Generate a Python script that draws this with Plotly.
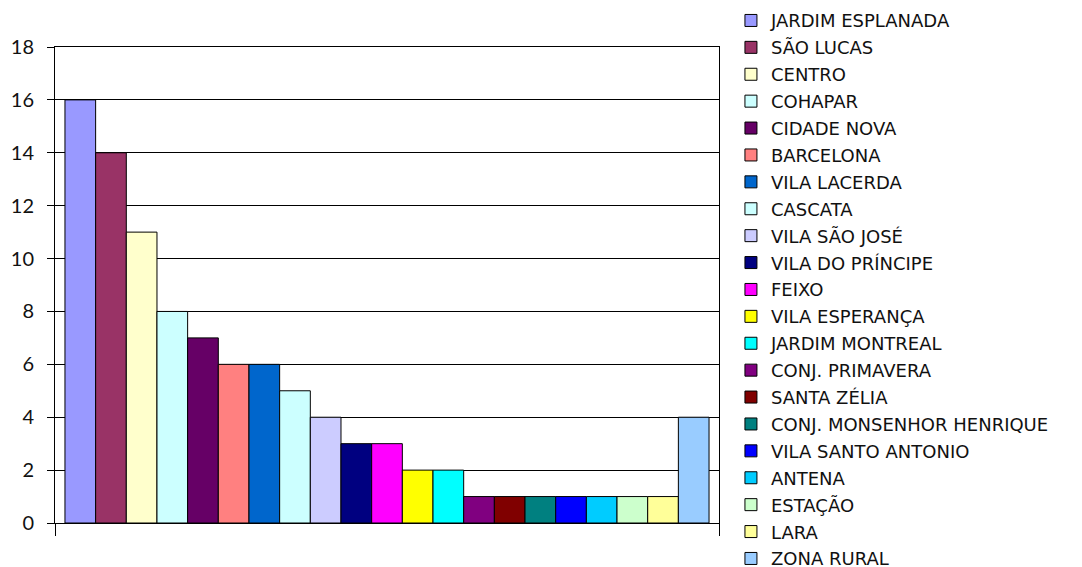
import plotly.graph_objects as go

bairros = ["JARDIM ESPLANADA", "SÃO LUCAS", "CENTRO", "COHAPAR", "CIDADE NOVA",
           "BARCELONA", "VILA LACERDA", "CASCATA", "VILA SÃO JOSÉ", "VILA DO PRÍNCIPE",
           "FEIXO", "VILA ESPERANÇA", "JARDIM MONTREAL", "CONJ. PRIMAVERA", "SANTA ZÉLIA",
           "CONJ. MONSENHOR HENRIQUE", "VILA SANTO ANTONIO", "ANTENA", "ESTAÇÃO", "LARA",
           "ZONA RURAL"]
valores = [16, 14, 11, 8, 7, 6, 6, 5, 4, 3, 3, 2, 2, 1, 1, 1, 1, 1, 1, 1, 4]
cores = ["#9999FF", "#993366", "#FFFFCC", "#CCFFFF", "#660066", "#FF8080", "#0066CC",
         "#CCFFFF", "#CCCCFF", "#000080", "#FF00FF", "#FFFF00", "#00FFFF", "#800080",
         "#800000", "#008080", "#0000FF", "#00CCFF", "#CCFFCC", "#FFFF99", "#99CCFF"]
y_ticks = [0, 2, 4, 6, 8, 10, 12, 14, 16, 18]

fig = go.Figure()
for nome, v, c in zip(bairros, valores, cores):
    fig.add_trace(go.Bar(x=["a"], y=[v], name=nome, legendgroup=nome,
                         marker=dict(color=c, line=dict(color="black", width=1))))

fig.update_layout(
    width=1082, height=567,
    margin=dict(l=55, r=363, t=47, b=44, pad=0, autoexpand=False),
    paper_bgcolor="white", plot_bgcolor="white",
    barmode="group", bargap=0.03, bargroupgap=0,
    font=dict(family="Lato", size=20, color="#111111"),
    legend=dict(x=1.018, xanchor="left", y=1.094, yanchor="top",
                font=dict(family="DejaVu Sans", size=18, color="#111111"),
                tracegroupgap=0.5, maxheight=700, bgcolor="rgba(0,0,0,0)"),
    showlegend=True,
)
fig.update_yaxes(range=[0, 18], tickvals=y_ticks, showgrid=True, gridcolor="black",
                 gridwidth=1, showline=True, linecolor="black", linewidth=1,
                 mirror=True, ticks="outside", ticklen=7, tickcolor="black",
                 ticklabelstandoff=9, zeroline=False)
fig.update_xaxes(type="category", showticklabels=False, showline=True, linecolor="black",
                 linewidth=1, mirror=True, ticks="outside", tickson="boundaries",
                 ticklen=12, tickcolor="black", showgrid=False)

fig.write_html("out.html", config={"displayModeBar": False},
               post_script="document.body.style.margin='0';")
